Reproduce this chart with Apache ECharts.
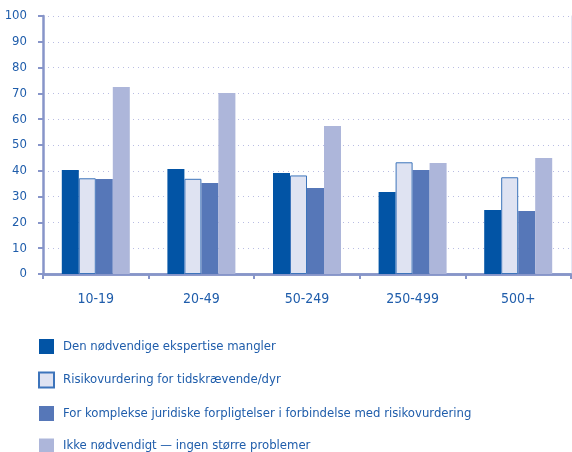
<!DOCTYPE html>
<html lang="no">
<head>
    <meta charset="UTF-8">
    <title>Risikovurdering</title>
</head>
<body style="margin:0;background:#fff">
<div id="main" style="width: 572px;height:452px"></div>
<script src="https://cdn.jsdelivr.net/npm/echarts@6/dist/echarts.min.js"></script>
<script>
    // kategorier (antall ansatte)
    var categories = ['10-19', '20-49', '50-249', '250-499', '500+'];
    var yTicks = [0, 10, 20, 30, 40, 50, 60, 70, 80, 90, 100];

    var seriesNames = [
        'Den nødvendige ekspertise mangler',
        'Risikovurdering for tidskrævende/dyr',
        'For komplekse juridiske forpligtelser i forbindelse med risikovurdering',
        'Ikke nødvendigt — ingen større problemer'
    ];
    var ekspertise = [40.3, 40.7, 39.1, 31.8, 24.8];
    var tidskraevende = [37.1, 36.9, 38.2, 43.3, 37.5];
    var komplekse = [36.8, 35.3, 33.3, 40.3, 24.4];
    var ikkeNodvendig = [72.5, 70.2, 57.4, 43.0, 45.0];

    var font = '"Liberation Sans Narrow", "DejaVu Sans Condensed", sans-serif';
    var textColor = '#1f5dab';
    var axisColor = '#8795c9';

    var myChart = echarts.init(document.getElementById('main'));

    function bar(name, data, style) {
        return {
            name: name,
            type: 'bar',
            data: data,
            barWidth: 17,
            barGap: '0%',
            itemStyle: style
        };
    }

    myChart.setOption({
        animation: false,
        textStyle: { fontFamily: font },
        grid: { left: 43, right: 1, top: 16, bottom: 178 },
        legend: {
            orient: 'vertical',
            left: 38,
            top: 339,
            height: 200,
            padding: 0,
            itemWidth: 15,
            itemHeight: 15,
            itemGap: 17.5,
            icon: 'rect',
            textStyle: { color: textColor, fontSize: 13, fontFamily: font, padding: [0, 0, 0, 4] },
            data: seriesNames
        },
        xAxis: [{
            type: 'category',
            data: categories,
            axisLine: { lineStyle: { color: axisColor, width: 2.5 } },
            axisTick: { show: true, length: 5, lineStyle: { color: axisColor, width: 2 } },
            axisLabel: { color: textColor, fontSize: 14, margin: 18, fontFamily: font }
        }, {
            type: 'category',
            position: 'top',
            data: categories,
            axisLine: { lineStyle: { color: axisColor, width: 2.5 } },
            axisTick: { show: false },
            axisLabel: { show: false }
        }],
        yAxis: [{
            type: 'value',
            min: yTicks[0],
            max: yTicks[yTicks.length - 1],
            interval: 10,
            axisLine: { show: true, lineStyle: { color: axisColor, width: 2.5 } },
            axisTick: { show: true, length: 5, lineStyle: { color: axisColor, width: 2 } },
            axisLabel: { color: textColor, fontSize: 13, margin: 16, fontFamily: font },
            splitLine: { lineStyle: { color: '#b9bde3', type: [1, 4], width: 1.2 } }
        }, {
            type: 'value',
            position: 'right',
            min: 0,
            max: 100,
            axisLine: { show: true, lineStyle: { color: '#e4e7f4', width: 1 } },
            axisTick: { show: false },
            axisLabel: { show: false },
            splitLine: { show: false }
        }],
        series: [
            bar(seriesNames[0], ekspertise, { color: '#0254a5' }),
            bar(seriesNames[1], tidskraevende, { color: '#dfe3f2', borderColor: '#3d74bb', borderWidth: 1 }),
            bar(seriesNames[2], komplekse, { color: '#5677b8' }),
            bar(seriesNames[3], ikkeNodvendig, { color: '#adb6da' })
        ]
    });
</script>
</body>
</html>
